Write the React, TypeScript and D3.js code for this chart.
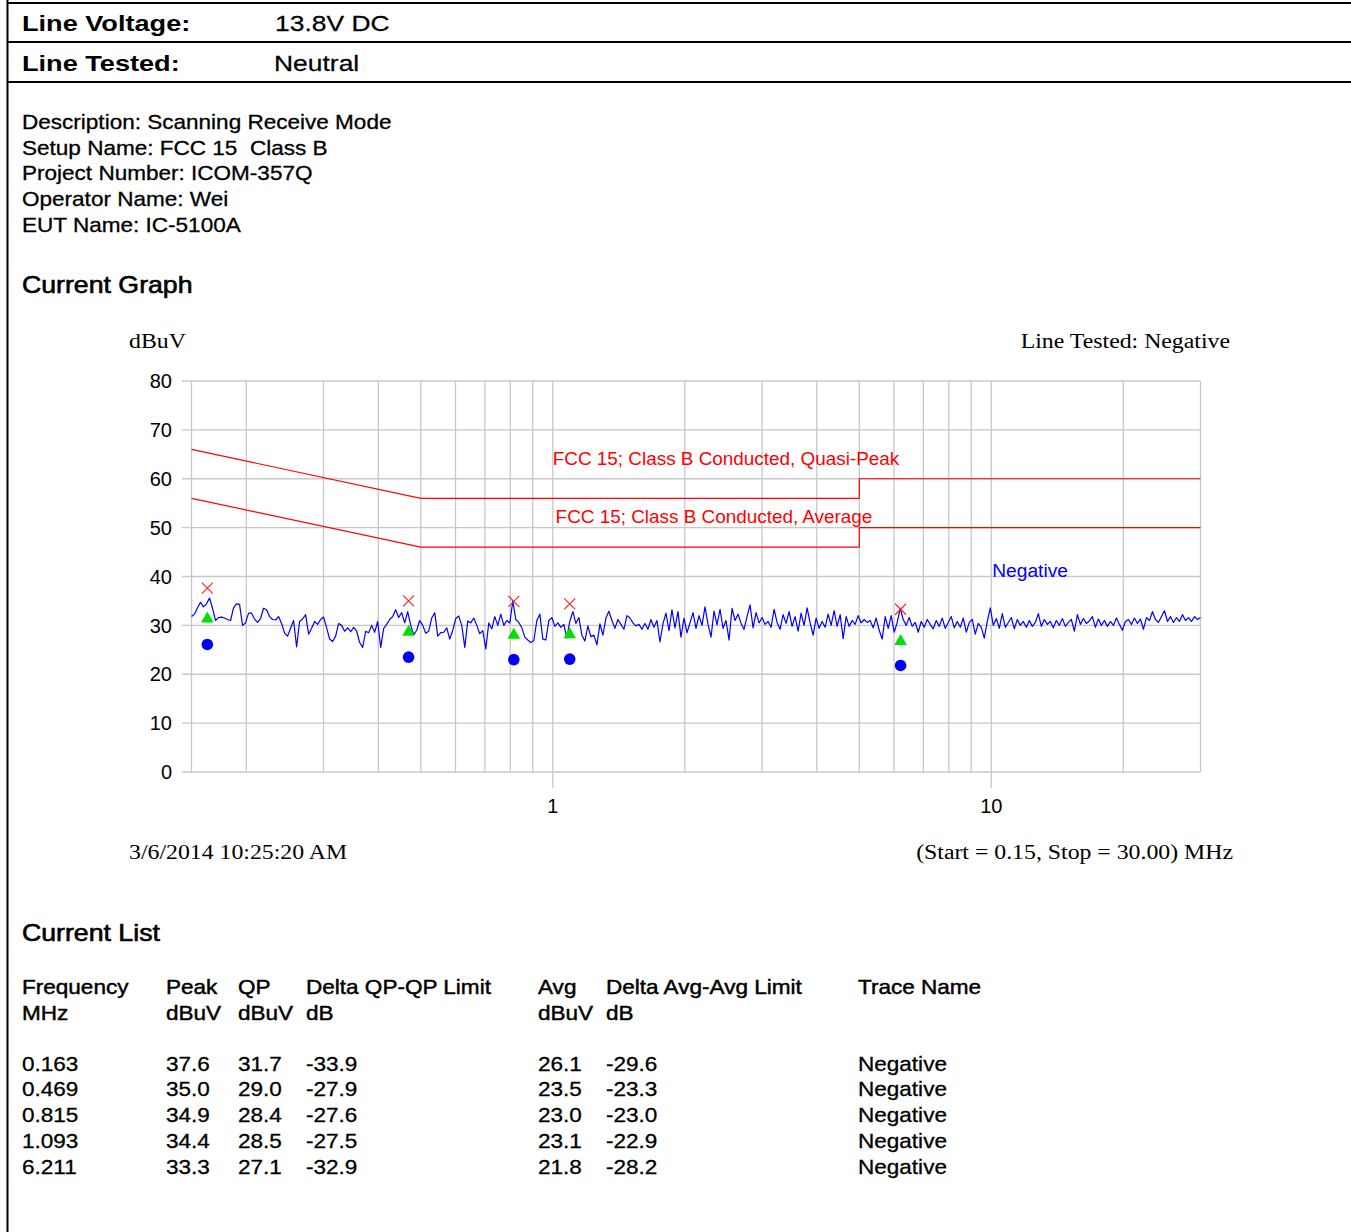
import React from 'react';
import * as d3 from 'd3';

const W = 1351;
const H = 1232;

const HEADER_LABELS = ['Line Voltage:', 'Line Tested:'];
const HEADER_VALUES = ['13.8V DC', 'Neutral'];
const DESCRIPTION_LINES = [
  'Description: Scanning Receive Mode',
  'Setup Name: FCC 15  Class B',
  'Project Number: ICOM-357Q',
  'Operator Name: Wei',
  'EUT Name: IC-5100A',
];

const Y_TICKS = [0, 10, 20, 30, 40, 50, 60, 70, 80];
const X_GRID_FREQS = [0.15, 0.2, 0.3, 0.4, 0.5, 0.6, 0.7, 0.8, 0.9, 1, 2, 3, 4, 5, 6, 7, 8, 9, 10, 20, 30];
const X_TICK_LABELS = [1, 10];

const LIMIT_FREQS = [0.15, 0.5, 5, 5, 30];
const QP_LIMIT = [66, 56, 56, 60, 60];
const AVG_LIMIT = [56, 46, 46, 50, 50];

const MARKER_FREQS = [0.163, 0.469, 0.815, 1.093, 6.211];
const MARKER_PEAK = [37.6, 35.0, 34.9, 34.4, 33.3];
const MARKER_QP = [31.7, 29.0, 28.4, 28.5, 27.1];
const MARKER_QP_DELTA = [-33.9, -27.9, -27.6, -27.5, -32.9];
const MARKER_AVG = [26.1, 23.5, 23.0, 23.1, 21.8];
const MARKER_AVG_DELTA = [-29.6, -23.3, -23.0, -22.9, -28.2];
const MARKER_TRACE = ['Negative', 'Negative', 'Negative', 'Negative', 'Negative'];

const TRACE_START = 0.15;
const TRACE_STOP = 30;
const TRACE_DBUV = [
  31.8, 32.3, 33.6, 34.7, 33.8, 34.4, 35.6, 33.5, 31.0, 31.6,
  31.7, 31.5, 31.2, 31.0, 33.6, 34.4, 34.3, 30.0, 30.5, 32.5,
  32.5, 31.3, 30.6, 31.4, 33.5, 33.2, 31.8, 31.2, 31.1, 31.8,
  30.4, 28.4, 27.8, 29.4, 31.0, 25.6, 30.8, 31.3, 32.2, 28.2,
  29.4, 30.8, 30.2, 31.2, 31.7, 29.5, 27.2, 26.7, 27.8, 30.4,
  30.0, 28.8, 29.5, 28.7, 29.6, 28.8, 26.5, 25.5, 28.8, 28.5,
  30.0, 28.6, 30.8, 25.5, 29.4, 30.2, 31.2, 31.8, 33.2, 31.6,
  32.6, 30.5, 32.8, 30.0, 28.1, 29.0, 31.0, 30.0, 28.4, 28.8,
  31.5, 32.6, 27.8, 28.5, 28.6, 29.5, 27.2, 29.0, 31.4, 31.9,
  30.0, 25.5, 30.9, 30.5, 31.5, 30.0, 28.3, 28.9, 25.2, 30.5,
  29.3, 31.8, 30.0, 32.3, 30.0, 31.0, 30.5, 35.0, 31.2, 30.6,
  29.5, 27.6, 27.0, 26.5, 26.9, 31.0, 32.3, 27.2, 27.0, 31.0,
  31.6, 29.8, 30.5, 29.6, 30.2, 27.4, 30.9, 32.8, 30.4, 31.6,
  28.0, 26.8, 29.9, 27.7, 28.0, 26.0, 30.3, 28.0, 31.5, 32.9,
  31.0, 29.4, 31.2, 30.2, 29.2, 32.0, 31.5, 30.5, 29.9, 30.2,
  29.2, 30.4, 29.2, 31.2, 29.6, 31.0, 26.6, 30.3, 32.5, 28.9,
  33.2, 29.5, 32.8, 27.6, 31.5, 28.5, 30.5, 32.6, 29.4, 32.0,
  30.0, 33.8, 30.2, 27.6, 32.9, 30.1, 33.3, 29.4, 31.0, 27.0,
  33.5, 31.0, 32.3, 30.4, 29.2, 31.8, 34.2, 29.5, 32.6, 30.5,
  31.6, 30.2, 30.8, 29.6, 33.3, 30.6, 29.2, 32.2, 30.4, 32.8,
  29.8, 31.8, 28.8, 32.5, 30.0, 33.6, 30.5, 28.0, 31.5, 29.4,
  30.8, 29.6, 32.3, 30.0, 33.0, 29.8, 32.2, 27.3, 31.8, 29.8,
  31.0, 30.2, 32.0, 30.5, 31.2, 30.6, 31.0, 29.5, 31.5, 29.0,
  27.2, 31.8, 29.4, 32.0, 28.6, 30.6, 33.5, 31.2, 30.0, 31.6,
  29.8, 30.6, 28.6, 30.8, 29.6, 31.2, 30.2, 29.3, 31.0, 29.8,
  31.5, 29.4, 30.6, 31.8, 29.5, 30.8, 29.6, 31.5, 28.6, 30.6,
  31.2, 28.2, 30.4, 29.6, 27.4, 30.8, 33.6, 30.0, 31.4, 29.4,
  32.4, 29.6, 30.6, 31.6, 29.3, 31.2, 30.0, 30.8, 29.6, 31.0,
  29.8, 30.6, 32.4, 29.8, 31.2, 30.2, 30.8, 29.5, 31.0, 30.0,
  31.4, 29.8, 30.6, 31.2, 28.8, 32.2, 30.2, 31.4, 30.4, 30.9,
  31.8, 29.6, 31.3, 30.0, 31.0, 29.8, 30.8, 30.0, 31.5, 30.2,
  29.0, 30.8, 31.2, 30.2, 31.5, 30.4, 31.3, 29.2, 31.6, 31.0,
  32.8, 31.2, 30.6, 31.8, 33.0, 30.8, 31.8, 30.6, 31.6, 30.8,
  32.2, 31.0, 31.6, 30.8, 31.8, 31.2, 31.6,
];

const TABLE_HEADERS = [
  ['Frequency', 'MHz'],
  ['Peak', 'dBuV'],
  ['QP', 'dBuV'],
  ['Delta QP-QP Limit', 'dB'],
  ['Avg', 'dBuV'],
  ['Delta Avg-Avg Limit', 'dB'],
  ['Trace Name', ''],
];

const SANS = "'Liberation Sans', Arial, Helvetica, sans-serif";
const SERIF = "'Liberation Serif', 'Times New Roman', serif";

type TProps = {
  x: number; y: number; sx?: number; size: number; weight?: string | number;
  family?: string; anchor?: 'start' | 'middle' | 'end'; fill?: string; thick?: number; children: React.ReactNode;
};
function T({ x, y, sx = 1, size, weight = 'normal', family = SANS, anchor = 'start', fill = '#000', thick = 0, children }: TProps) {
  return (
    <text
      transform={`translate(${x},${y}) scale(${sx},1)`}
      fontSize={size}
      fontWeight={weight}
      fontFamily={family}
      textAnchor={anchor}
      fill={fill}
      stroke={thick > 0 ? fill : 'none'}
      strokeWidth={thick}
      style={{ whiteSpace: 'pre' }}
    >
      {children}
    </text>
  );
}

export default function App() {
  const x = d3.scaleLog().domain([0.15, 30]).range([191.5, 1200.5]);
  const y = d3.scaleLinear().domain([0, 80]).range([772, 381]);

  const n = TRACE_DBUV.length;
  const traceFreqs = TRACE_DBUV.map((_, i) => TRACE_START * Math.pow(TRACE_STOP / TRACE_START, i / (n - 1)));
  const tracePts: [number, number][] = TRACE_DBUV.map((v, i) => [traceFreqs[i], v]);
  const line = d3.line<[number, number]>().x(d => x(d[0])).y(d => y(d[1]));
  const qpPts: [number, number][] = LIMIT_FREQS.map((f, i) => [f, QP_LIMIT[i]]);
  const avgPts: [number, number][] = LIMIT_FREQS.map((f, i) => [f, AVG_LIMIT[i]]);

  const loc = d3.formatLocale({ decimal: '.', thousands: ',', grouping: [3], currency: ['', ''], minus: '-' });
  const f1 = loc.format('.1f');
  const f3 = loc.format('.3f');
  const gridColor = '#c8c8c8';
  const colX = [22, 166, 238, 306, 538, 606, 858];
  const rowY0 = 1070.5;
  const rowDy = 25.8;
  const sxDoc = 1.1;
  const bodySize = 20.5;
  const bodyThick = 0.3;

  const rows = MARKER_FREQS.map((f, i) => [
    f3(f), f1(MARKER_PEAK[i]), f1(MARKER_QP[i]), f1(MARKER_QP_DELTA[i]),
    f1(MARKER_AVG[i]), f1(MARKER_AVG_DELTA[i]), MARKER_TRACE[i],
  ]);

  return (
    <svg width={W} height={H} style={{ position: 'absolute', left: 0, top: 0, background: '#fff' }}>
      <rect x={0} y={0} width={W} height={H} fill="#fff" />
      {/* page frame */}
      <line x1={7.5} y1={0} x2={7.5} y2={H} stroke="#000" strokeWidth={2} />
      <line x1={7} y1={3} x2={W} y2={3} stroke="#000" strokeWidth={2} />
      <line x1={7} y1={42} x2={W} y2={42} stroke="#000" strokeWidth={2} />
      <line x1={7} y1={82} x2={W} y2={82} stroke="#000" strokeWidth={2} />

      {HEADER_LABELS.map((t, i) => (
        <T key={t} x={22} y={30.5 + i * 40.5} sx={1.19} size={22.8} weight="bold">{t}</T>
      ))}
      {HEADER_VALUES.map((t, i) => (
        <T key={t} x={i === 0 ? 275 : 274} y={30.5 + i * 40.5} sx={1.16} size={22.8} thick={0.25}>{t}</T>
      ))}

      {DESCRIPTION_LINES.map((t, i) => (
        <T key={t} x={22} y={128.8 + i * 25.8} sx={sxDoc} size={bodySize} thick={bodyThick}>{t}</T>
      ))}

      <T x={22} y={292.5} sx={1.15} size={23.2} thick={0.6}>Current Graph</T>

      {/* chart */}
      <T x={129} y={348} sx={1.19} size={20} family={SERIF}>dBuV</T>
      <T x={1230} y={348} sx={1.19} size={20} family={SERIF} anchor="end">Line Tested: Negative</T>

      {Y_TICKS.map(t => (
        <line key={'yg' + t} x1={182} x2={1200.5} y1={y(t)} y2={y(t)} stroke={gridColor} strokeWidth={1.3} />
      ))}
      {X_GRID_FREQS.map(f => (
        <line key={'xg' + f} x1={x(f)} x2={x(f)} y1={y(80)}
          y2={X_TICK_LABELS.includes(f) ? 788 : y(0)} stroke={gridColor} strokeWidth={1.3} />
      ))}
      {Y_TICKS.map(t => (
        <text key={'yl' + t} x={172} y={y(t)} dy="0.36em" textAnchor="end" fontSize={20} fontFamily={SANS}>{t}</text>
      ))}
      {X_TICK_LABELS.map(f => (
        <text key={'xl' + f} x={x(f)} y={813} textAnchor="middle" fontSize={20} fontFamily={SANS}>{f}</text>
      ))}

      <path d={line(qpPts) || ''} fill="none" stroke="#ff0000" strokeWidth={1.2} />
      <path d={line(avgPts) || ''} fill="none" stroke="#ff0000" strokeWidth={1.2} />

      <path d={line(tracePts) || ''} fill="none" stroke="#0000ff" strokeWidth={1.2} strokeLinejoin="round" />

      {MARKER_FREQS.map((f, i) => {
        const cx = x(f);
        const cp = y(MARKER_PEAK[i]);
        const cq = y(MARKER_QP[i]);
        const ca = y(MARKER_AVG[i]);
        return (
          <g key={'m' + f}>
            <path d={`M${cx - 5.5},${cp - 5.5}L${cx + 5.5},${cp + 5.5}M${cx - 5.5},${cp + 5.5}L${cx + 5.5},${cp - 5.5}`}
              stroke="#ff2020" strokeWidth={1.1} fill="none" />
            <path d={`M${cx},${cq - 5.5}L${cx + 6.3},${cq + 5.5}L${cx - 6.3},${cq + 5.5}Z`} fill="#00e000" />
            <circle cx={cx} cy={ca} r={5.8} fill="#0000ff" />
          </g>
        );
      })}

      <text x={x(1)} y={465} fontSize={18.9} fontFamily={SANS} fill="#ff0000">FCC 15; Class B Conducted, Quasi-Peak</text>
      <text x={x(1.015)} y={523} fontSize={18.9} fontFamily={SANS} fill="#ff0000">FCC 15; Class B Conducted, Average</text>
      <text x={x(10.05)} y={577} fontSize={19.2} fontFamily={SANS} fill="#0000ff">Negative</text>

      <T x={129} y={859} sx={1.19} size={20} family={SERIF}>3/6/2014 10:25:20 AM</T>
      <T x={1233} y={859} sx={1.19} size={20} family={SERIF} anchor="end">(Start = 0.15, Stop = 30.00) MHz</T>

      <T x={22} y={940.5} sx={1.15} size={23.2} thick={0.6}>Current List</T>

      {TABLE_HEADERS.map((h, c) => (
        <g key={'th' + c}>
          <T x={colX[c]} y={993.5} sx={sxDoc} size={bodySize} thick={0.45}>{h[0]}</T>
          {h[1] && <T x={colX[c]} y={1019.5} sx={sxDoc} size={bodySize} thick={0.45}>{h[1]}</T>}
        </g>
      ))}
      {rows.map((r, ri) => (
        <g key={'r' + ri}>
          {r.map((v, c) => (
            <T key={c} x={colX[c]} y={rowY0 + ri * rowDy} sx={sxDoc} size={bodySize} thick={bodyThick}>{v}</T>
          ))}
        </g>
      ))}
    </svg>
  );
}
